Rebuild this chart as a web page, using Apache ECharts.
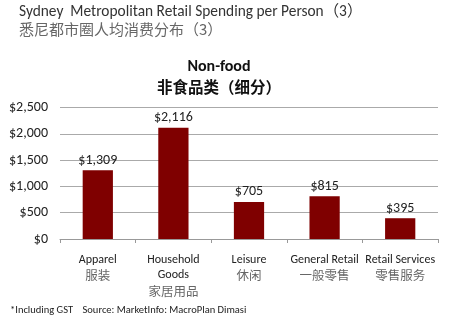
<!DOCTYPE html>
<html>
<head>
<meta charset="utf-8">
<script src="https://cdn.jsdelivr.net/npm/echarts@6/dist/echarts.min.js"></script>
<style>
  html, body { margin: 0; padding: 0; background: #fff; }
  #chart { width: 452px; height: 327px; }
</style>
</head>
<body>
<div id="chart"></div>
<script>
// Non-food spending categories (English / Chinese)
const categories = ['Apparel\n服装', 'Household\nGoods\n家居用品', 'Leisure\n休闲', 'General Retail\n一般零售', 'Retail Services\n零售服务'];
// Spending per person, AUD
const spending = [1309, 2116, 705, 815, 395];
// Value axis ticks
const yTicks = [0, 500, 1000, 1500, 2000, 2500];

const fontFamily = 'Calibri, Carlito, Lato, "Noto Sans CJK SC", sans-serif';
const cjkFont = '"Noto Sans CJK SC", sans-serif';
const hasCjk = s => /[\u3400-\u9fff]/.test(s);

const chart = echarts.init(document.getElementById('chart'), null, { renderer: 'canvas' });

chart.setOption({
  animation: false,
  backgroundColor: '#ffffff',
  textStyle: { fontFamily: fontFamily },
  title: [
    {
      text: '{en|Sydney  Metropolitan Retail Spending per Person（3）}\n{cn|悉尼都市圈人均消费分布（3）}',
      left: 19, top: 4, padding: 0,
      textStyle: {
        fontWeight: 'normal',
        rich: {
          en: { fontSize: 15.4, fontWeight: 'normal', color: '#333', lineHeight: 17, fontFamily: fontFamily },
          cn: { fontSize: 15, fontWeight: 'normal', color: '#666', lineHeight: 17, fontFamily: cjkFont }
        }
      }
    },
    {
      text: '{en|Non-food}\n{cn|非食品类（细分）}',
      left: 219, top: 57, textAlign: 'center', padding: 0,
      textStyle: {
        rich: {
          en: { fontSize: 16, fontWeight: 'bold', color: '#111', lineHeight: 20, fontFamily: fontFamily, align: 'center' },
          cn: { fontSize: 15.5, fontWeight: 'bold', color: '#111', lineHeight: 20, fontFamily: cjkFont, align: 'center' }
        }
      }
    },
    {
      text: '*Including GST    Source: MarketInfo: MacroPlan Dimasi',
      left: 10, top: 305, padding: 0,
      textStyle: { fontSize: 10.5, fontWeight: 'normal', color: '#222', fontFamily: fontFamily }
    }
  ],
  grid: { left: 60, right: 14, top: 107.5, bottom: 88, containLabel: false },
  xAxis: {
    type: 'category',
    data: categories,
    axisLine: { show: true, lineStyle: { color: '#999', width: 1 } },
    axisTick: { show: true, alignWithLabel: false, length: 4, lineStyle: { color: '#999' } },
    axisLabel: {
      interval: 0, margin: 13,
      formatter: v => v.split('\n').map(l => (hasCjk(l) ? '{cn|' : '{en|') + l + '}').join('\n'),
      rich: {
        en: { fontSize: 12, color: '#222', lineHeight: 15.5, fontFamily: fontFamily },
        cn: { fontSize: 12.5, color: '#666', lineHeight: 15.5, fontFamily: cjkFont }
      }
    }
  },
  yAxis: {
    type: 'value',
    min: yTicks[0], max: yTicks[yTicks.length - 1], interval: yTicks[1] - yTicks[0],
    axisLine: { show: false },
    axisTick: { show: false },
    splitLine: { lineStyle: { color: '#aaa', width: 1 } },
    axisLabel: {
      color: '#222', fontSize: 14, margin: 12, fontFamily: fontFamily,
      formatter: v => '$' + v.toLocaleString('en-US')
    }
  },
  series: [{
    type: 'bar',
    data: spending,
    barCategoryGap: '60%',
    itemStyle: { color: '#7f0000' },
    label: {
      show: true, position: 'top', distance: 3,
      color: '#222', fontSize: 14, fontFamily: fontFamily,
      formatter: p => '$' + p.value.toLocaleString('en-US')
    }
  }]
});
</script>
</body>
</html>
